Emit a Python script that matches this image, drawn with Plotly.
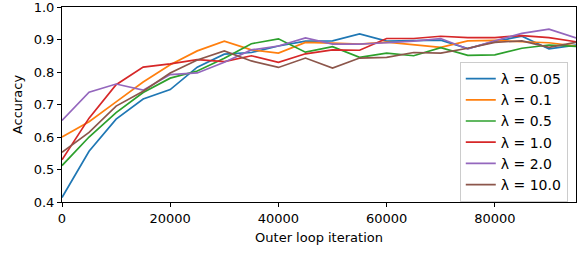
import plotly.graph_objects as go

iterations = [0, 5000, 10000, 15000, 20000, 25000, 30000, 35000, 40000, 45000,
              50000, 55000, 60000, 65000, 70000, 75000, 80000, 85000, 90000, 95000]

acc_005 = [0.414, 0.556, 0.655, 0.717, 0.746, 0.815, 0.855, 0.860, 0.880, 0.895,
           0.896, 0.917, 0.895, 0.896, 0.898, 0.872, 0.894, 0.910, 0.871, 0.883]
acc_01 = [0.600, 0.647, 0.708, 0.769, 0.822, 0.865, 0.895, 0.868, 0.858, 0.891,
          0.889, 0.886, 0.892, 0.883, 0.876, 0.896, 0.897, 0.893, 0.890, 0.880]
acc_05 = [0.512, 0.600, 0.675, 0.737, 0.781, 0.803, 0.842, 0.887, 0.902, 0.861,
          0.878, 0.845, 0.858, 0.850, 0.875, 0.851, 0.853, 0.873, 0.883, 0.879]
acc_1 = [0.530, 0.658, 0.761, 0.815, 0.825, 0.838, 0.832, 0.850, 0.830, 0.856,
         0.868, 0.867, 0.903, 0.903, 0.910, 0.906, 0.906, 0.912, 0.906, 0.893]
acc_2 = [0.651, 0.738, 0.763, 0.744, 0.792, 0.797, 0.830, 0.868, 0.880, 0.905,
         0.886, 0.886, 0.890, 0.895, 0.903, 0.871, 0.896, 0.919, 0.932, 0.905]
acc_10 = [0.553, 0.614, 0.695, 0.741, 0.797, 0.837, 0.865, 0.834, 0.814, 0.843,
          0.812, 0.843, 0.845, 0.860, 0.858, 0.873, 0.891, 0.896, 0.876, 0.891]

series_names = ["λ = 0.05", "λ = 0.1", "λ = 0.5", "λ = 1.0", "λ = 2.0", "λ = 10.0"]
series_values = [acc_005, acc_01, acc_05, acc_1, acc_2, acc_10]
colors = ["#1f77b4", "#ff7f0e", "#2ca02c", "#d62728", "#9467bd", "#8c564b"]

y_ticks = [0.4, 0.5, 0.6, 0.7, 0.8, 0.9, 1.0]
x_ticks = [0, 20000, 40000, 60000, 80000]

fig = go.Figure()
for name, vals, col in zip(series_names, series_values, colors):
    fig.add_trace(go.Scatter(x=iterations, y=vals, mode="lines", name=name,
                             line=dict(color=col, width=1.7)))

FONT = "DejaVu Sans"
fig.update_layout(
    width=586, height=256,
    margin=dict(l=62, r=10, t=7, b=54),
    paper_bgcolor="white", plot_bgcolor="white",
    font=dict(family=FONT, size=13, color="black"),
    showlegend=True,
    legend=dict(x=0.984, y=0.0, xanchor="right", yanchor="bottom",
                bgcolor="rgba(255,255,255,0.8)", bordercolor="#cccccc", borderwidth=1,
                font=dict(family=FONT, size=14, color="black"),
                tracegroupgap=0, itemwidth=30),
)
fig.update_xaxes(range=[0, 95000], tickvals=x_ticks, tickformat="d",
                 showgrid=False, zeroline=False, showline=True, mirror=True,
                 linecolor="black", linewidth=1, ticks="outside", ticklen=4,
                 tickcolor="black", automargin=False, ticklabeloverflow="allow",
                 tickfont=dict(family=FONT, size=13, color="black"),
                 title=dict(text="Outer loop iteration", standoff=8,
                            font=dict(family=FONT, size=13, color="black")))
fig.update_yaxes(range=[0.4, 1.0], tickvals=y_ticks, tickformat=".1f",
                 showgrid=False, zeroline=False, showline=True, mirror=True,
                 linecolor="black", linewidth=1, ticks="outside", ticklen=4,
                 tickcolor="black", automargin=False, ticklabeloverflow="allow",
                 tickfont=dict(family=FONT, size=13, color="black"),
                 title=dict(text="Accuracy", standoff=8,
                            font=dict(family=FONT, size=13, color="black")))

fig.write_html("out.html", config={"displayModeBar": False},
               post_script="document.body.style.margin='0px';")
